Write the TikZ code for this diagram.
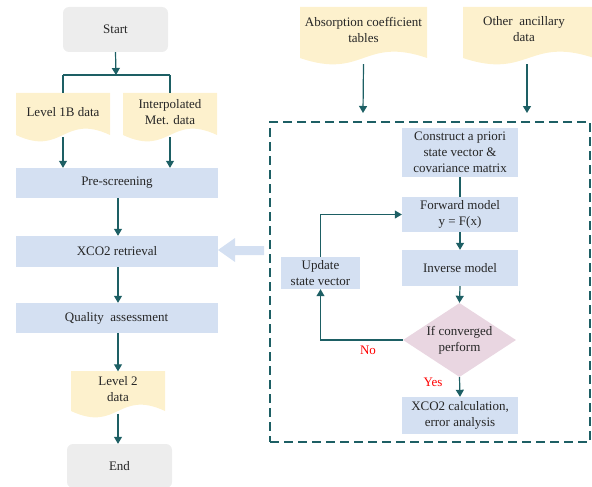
\documentclass[tikz,border=0pt]{standalone}
\usepackage{fontspec}
\setmainfont{Liberation Serif}
\usetikzlibrary{shapes.geometric,arrows.meta}
\definecolor{boxblue}{HTML}{D4E0F2}
\definecolor{startgray}{HTML}{EDEDED}
\definecolor{docyellow}{HTML}{FDF1CD}
\definecolor{diamondpink}{HTML}{E9D6E1}
\definecolor{lineteal}{HTML}{1D5F64}
\definecolor{labelred}{HTML}{FF0000}
\newcommand{\docfill}[4]{%
  \fill[docyellow] (#1,#2) -- (#3,#2) -- (#3,#4)
    .. controls ({(#1+#3)/2},#4-22) and ({(#1+#3)/2},#4+22) .. (#1,#4) -- cycle;}
\tikzset{
  every node/.style={font=\fontsize{13}{16}\selectfont, align=center, inner sep=0pt, text=black!85},
  procbox/.style={fill=boxblue},
  termbox/.style={fill=startgray, rounded corners=6pt},
  docnode/.style={},
  decision/.style={shape=diamond, fill=diamondpink, aspect=1.5},
  conn/.style={draw=lineteal, line width=1.2pt, -{Triangle[length=7pt,width=8pt]}},
  plainline/.style={draw=lineteal, line width=1.2pt},
  answer/.style={text=labelred},
}
\begin{document}
\begin{tikzpicture}[x=1pt,y=-1pt]
\useasboundingbox (0,0) rectangle (592,487);
% ---------- left column ----------
\node[termbox, minimum width=105, minimum height=45] (start) at (115.5,29.5) {Start};
\docfill{16}{93}{110}{135}
\docfill{123}{93}{217}{135}
\node[docnode, minimum width=94, minimum height=38] (l1b) at (63,112) {Level 1B data};
\node[docnode, minimum width=94, minimum height=38] (met) at (170,112) {Interpolated\\Met. data};
\node[procbox, minimum width=202, minimum height=30] (pre) at (117,183) {Pre-screening};
\node[procbox, minimum width=202, minimum height=31] (ret) at (117,251.5) {XCO2 retrieval};
\node[procbox, minimum width=202, minimum height=30] (qa) at (116.5,318) {Quality\ \ assessment};
\docfill{71}{371}{165}{411}
\node[docnode, minimum width=94, minimum height=36] (l2) at (118,389.5) {Level 2\\data};
\node[termbox, minimum width=105, minimum height=44] (end) at (119.5,466) {End};

\coordinate (split) at (116,75);
\draw[conn] (start.south) -- (split);
\draw[plainline] (split -| l1b.north) -- (split -| met.north);
\draw[plainline] (split -| l1b.north) -- (l1b.north);
\draw[plainline] (split -| met.north) -- (met.north);
\draw[conn] ([yshift=-6pt]l1b.south) -- (l1b.south |- pre.north);
\draw[conn] ([yshift=-6pt]met.south) -- (met.south |- pre.north);
\draw[conn] (pre.south -| l2.north) -- (ret.north -| l2.north);
\draw[conn] (ret.south -| l2.north) -- (qa.north -| l2.north);
\draw[conn] (qa.south -| l2.north) -- (l2.north);
\draw[conn] ([yshift=-6pt]l2.south) -- (end.north -| l2.south);

% big arrow pointing to the retrieval step
\fill[boxblue] (218,250) -- (235,238) -- (235,246) -- (264,246) -- (264,255) -- (235,255) -- (235,262) -- cycle;

% ---------- right side ----------
\docfill{300}{7}{427}{58}
\docfill{463}{7}{594}{58}
\node[docnode, minimum width=127, minimum height=45] (abs) at (363.5,29.5) {Absorption coefficient\\tables};
\node[docnode, minimum width=120, minimum height=45] (anc) at (524,29.5) {Other\ \ ancillary\\data};

\node[draw=lineteal, line width=1.2pt, dash pattern=on 9pt off 5pt, minimum width=320, minimum height=320] (loop) at (430,282) {};
\coordinate (absin) at (363,113);
\coordinate (ancin) at (527,113);
\draw[conn] ([yshift=-12pt]abs.south) -- (absin);
\draw[conn] ([xshift=3pt,yshift=-12pt]anc.south) -- (ancin);

\node[procbox, minimum width=116, minimum height=49] (prior) at (460,152.5) {Construct a priori\\state vector \&\\covariance matrix};
\node[procbox, minimum width=116, minimum height=35] (fwd) at (460,214.5) {Forward model\\y = F(x)};
\node[procbox, minimum width=116, minimum height=36] (inv) at (460,268) {Inverse model};
\node[decision, minimum width=113, minimum height=74] (conv) at (459.5,340) {If converged\\perform};
\node[procbox, minimum width=116, minimum height=37] (calc) at (460,415.5) {XCO2 calculation,\\error analysis};
\node[procbox, minimum width=79, minimum height=32] (upd) at (320.5,273) {Update\\state vector};

\draw[plainline] (prior.south) -- (fwd.north);
\draw[conn] (fwd.south) -- (inv.north);
\draw[conn] (inv.south) -- (conv.north);
\draw[conn] (conv.south) -- (calc.north);
\draw[conn] (conv.west) -| (upd.south);
\draw[conn] (upd.north) |- (fwd.west);

\node[answer] (no) at (368,350) {No};
\node[answer] (yes) at (433,382) {Yes};
\end{tikzpicture}
\end{document}
